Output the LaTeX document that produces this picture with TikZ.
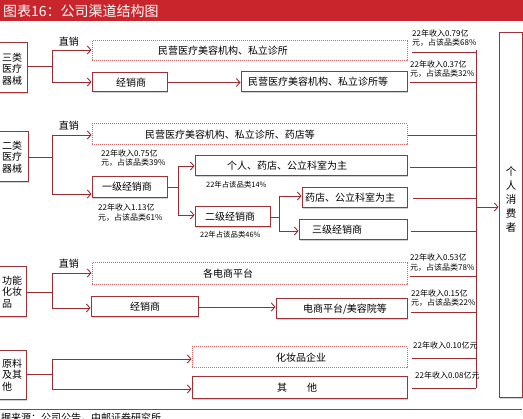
\documentclass[tikz,border=0pt]{standalone}
\usepackage{fontspec}
\setmainfont{Noto Sans CJK SC}
\usetikzlibrary{arrows.meta,fit,shadows,calc}
\definecolor{lc}{RGB}{155,45,50}
\definecolor{bc}{RGB}{160,50,55}
\definecolor{dc}{RGB}{215,100,100}
\definecolor{tr}{RGB}{200,38,44}
\begin{document}
\begin{tikzpicture}[x=1pt,y=-1pt,
  ln/.style={draw=lc, line width=0.9pt},
  arr/.style={draw=lc, line width=0.9pt, -{Straight Barb[length=3.5pt,width=8pt]}},
  bx/.style={draw=bc, line width=1pt, fill=white, inner sep=0pt,
     drop shadow={shadow xshift=1pt, shadow yshift=-1pt, fill=black, opacity=0.18}},
  dbx/.style={draw=dc, densely dotted, line width=1pt, fill=white, inner sep=0pt},
  txt/.style={font=\fontsize{10}{11.5}\selectfont, inner sep=0pt},
  lab/.style={font=\fontsize{8}{9.5}\selectfont, inner sep=0pt, anchor=west},
  labs/.style={font=\fontsize{7.4}{9}\selectfont, inner sep=0pt, anchor=west}]
\useasboundingbox (0,0) rectangle (523,419);
\fill[white] (0,0) rectangle (523,419);
% title
\fill[tr] (0,0) rectangle (523,21);
\node[anchor=west, inner sep=0pt, text=white, font=\fontsize{14}{16}\selectfont] (title) at (3,11) {图表16：公司渠道结构图};
% consumer box and bus
\node[bx, fit={(499,33) (522,398)}] (C) {};
\node[txt, align=center, font=\fontsize{10.5}{14}\selectfont] (tC) at (511,200) {个\\人\\消\\费\\者};
\coordinate (busT) at (476,50);
\coordinate (busB) at (476,388);
\coordinate (busA) at (476,207);
\draw[ln] (busT) -- (busB);
\draw[arr] (busA) -- (C.west |- busA);

% ---------- group 1
\node[bx, fit={(-5,43) (27,93)}] (L1) {};
\node[txt, anchor=west, align=left] (tL1) at (2,69) {三类\\医疗\\器械};
\node[txt] (z1) at (69,42) {直销};
\node[dbx, fit={(92,41) (407,61)}] (D1) {};
\node[txt] (tD1) at (223,51) {民营医疗美容机构、私立诊所};
\node[bx, fit={(92,73) (167,92)}] (J1) {};
\node[txt] (tJ1) at (131,82.5) {经销商};
\node[bx, fit={(241,72) (407,92)}] (K1) {};
\node[txt] (tK1) at (318,82) {民营医疗美容机构、私立诊所等};
\coordinate (s1) at (52,66);
\coordinate (s1t) at (52,50);
\coordinate (s1b) at (52,82);
\draw[ln] (L1.east |- s1) -- (s1);
\draw[ln] (s1t) -- (s1b);
\draw[arr] (s1t) -- (D1.west |- s1t);
\draw[arr] (s1b) -- (J1.west |- s1b);
\draw[arr] (J1.east) -- (K1.west |- J1.east);
\node[lab] (a1) at (412,33) {22年收入0.79亿};
\node[lab] (a2) at (412,43) {元，占该品类68\%};
\node[lab] (a3) at (410,64) {22年收入0.37亿};
\node[lab] (a4) at (410,74) {元，占该品类32\%};
\coordinate (r1) at (412,52);
\coordinate (r2) at (410,82);
\draw[ln] (r1) -- (r1 -| busT);
\draw[ln] (r2) -- (r2 -| busT);

% ---------- group 2
\node[bx, fit={(-5,132) (28,182)}] (L2) {};
\node[txt, anchor=west, align=left] (tL2) at (2,157) {二类\\医疗\\器械};
\node[txt] (z2) at (69,126) {直销};
\node[dbx, fit={(92,124) (407,145)}] (D2) {};
\node[txt] (tD2) at (230,135) {民营医疗美容机构、私立诊所、药店等};
\node[bx, fit={(92,177) (167,198)}] (J2) {};
\node[txt] (tJ2) at (127,187) {一级经销商};
\node[lab] (b1) at (101,153) {22年收入0.75亿};
\node[lab] (b2) at (101,163) {元，占该品类39\%};
\node[lab] (b3) at (98,207) {22年收入1.13亿};
\node[lab] (b4) at (98,218) {元，占该品类61\%};
\coordinate (s2) at (52,157);
\coordinate (s2t) at (52,135);
\coordinate (s2b) at (52,194);
\draw[ln] (L2.east |- s2) -- (s2);
\draw[ln] (s2t) -- (s2b);
\draw[arr] (s2t) -- (D2.west |- s2t);
\draw[arr] (s2b) -- (J2.west |- s2b);
\node[bx, fit={(195,156) (407,176)}] (P2) {};
\node[txt] (tP2) at (287,166) {个人、药店、公立科室为主};
\node[labs] (b5) at (206,185) {22年占该品类14\%};
\node[bx, fit={(195,207) (270,227)}] (E2) {};
\node[txt] (tE2) at (230,217) {二级经销商};
\node[labs] (b6) at (200,235) {22年占该品类46\%};
\coordinate (b2t) at (178,166);
\coordinate (b2b) at (178,215);
\draw[ln] (J2.east) -- (J2.east -| b2t);
\draw[ln] (b2t) -- (b2b);
\draw[arr] (b2t) -- (P2.west |- b2t);
\draw[arr] (b2b) -- (E2.west |- b2b);
\node[bx, fit={(302,188) (407,208)}] (F2) {};
\node[txt] (tF2) at (350,198) {药店、公立科室为主};
\node[bx, fit={(299,220) (407,240)}] (G2) {};
\node[txt] (tG2) at (337,230) {三级经销商};
\coordinate (b3t) at (279,196);
\coordinate (b3b) at (279,231);
\draw[ln] (E2.east) -- (E2.east -| b3t);
\draw[ln] (b3t) -- (b3b);
\draw[arr] (b3t) -- (F2.west |- b3t);
\draw[arr] (b3b) -- (G2.west |- b3b);
\coordinate (r3) at (408,135);
\coordinate (r4) at (410,167);
\coordinate (r5) at (413,198);
\coordinate (r6) at (411,231);
\draw[ln] (r3) -- (r3 -| busT);
\draw[ln] (r4) -- (r4 -| busT);
\draw[ln] (r5) -- (r5 -| busT);
\draw[ln] (r6) -- (r6 -| busT);

% ---------- group 3
\node[bx, fit={(-5,267) (26,317)}] (L3) {};
\node[txt, anchor=west, align=left] (tL3) at (2,292) {功能\\化妆\\品};
\node[txt] (z3) at (69,264) {直销};
\node[dbx, fit={(92,263) (407,285)}] (D3) {};
\node[txt] (tD3) at (228,274) {各电商平台};
\node[bx, fit={(91,297) (198,317)}] (J3) {};
\node[txt] (tJ3) at (145,307) {经销商};
\node[bx, fit={(276,299) (407,319)}] (K3) {};
\node[txt] (tK3) at (345,309) {电商平台/美容院等};
\coordinate (s3) at (52,292);
\coordinate (s3t) at (52,273);
\coordinate (s3b) at (52,308);
\draw[ln] (L3.east |- s3) -- (s3);
\draw[ln] (s3t) -- (s3b);
\draw[arr] (s3t) -- (D3.west |- s3t);
\draw[arr] (s3b) -- (J3.west |- s3b);
\draw[arr] (J3.east) -- (K3.west |- J3.east);
\node[lab] (c1) at (410,257) {22年收入0.53亿};
\node[lab] (c2) at (410,268) {元，占该品类78\%};
\node[lab] (c3) at (411,293) {22年收入0.15亿};
\node[lab] (c4) at (411,303) {元，占该品类22\%};
\coordinate (r7) at (410,276);
\coordinate (r8) at (411,312);
\draw[ln] (r7) -- (r7 -| busT);
\draw[ln] (r8) -- (r8 -| busT);

% ---------- group 4
\node[bx, fit={(-5,351) (26,400)}] (L4) {};
\node[txt, anchor=west, align=left] (tL4) at (2,375) {原料\\及其\\他};
\node[dbx, fit={(192,347) (407,368)}] (D4) {};
\node[txt] (tD4) at (301,358) {化妆品企业};
\node[bx, fit={(192,377) (407,399)}] (O4) {};
\node[txt] (tO4) at (297,388) {其\hspace{20pt}他};
\coordinate (s4) at (52,374);
\coordinate (s4t) at (52,359);
\coordinate (s4b) at (52,389);
\draw[ln] (L4.east |- s4) -- (s4);
\draw[ln] (s4t) -- (s4b);
\draw[arr] (s4t) -- (D4.west |- s4t);
\draw[arr] (s4b) -- (O4.west |- s4b);
\node[lab] (d1) at (413,345) {22年收入0.10亿元};
\node[lab] (d2) at (415,375) {22年收入0.08亿元};
\coordinate (r9) at (412,358);
\coordinate (r10) at (412,388);
\draw[ln] (r9) -- (r9 -| busT);
\draw[ln] (r10) -- (r10 -| busT);

% bottom
\coordinate (q1) at (0,409);
\coordinate (q2) at (522,409);
\draw[draw=tr, line width=0.9pt] (q1) -- (q2);
\node[anchor=west, inner sep=0pt, font=\fontsize{10}{12}\selectfont] (src) at (1,418) {据来源：公司公告，中邮证券研究所};
\end{tikzpicture}
\end{document}
